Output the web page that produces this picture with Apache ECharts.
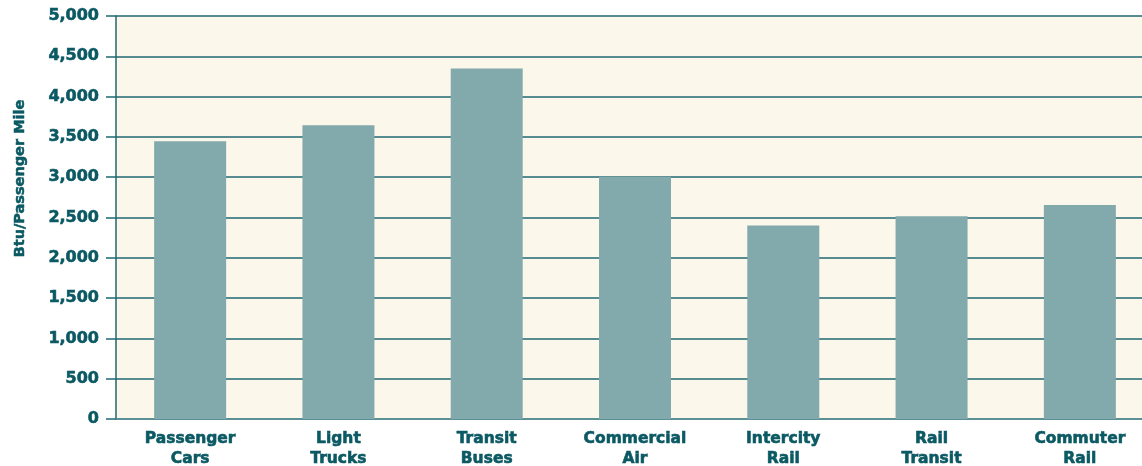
<!DOCTYPE html>
<html>
<head>
<meta charset="utf-8">
<script src="https://cdn.jsdelivr.net/npm/echarts@6/dist/echarts.min.js"></script>
<style>
  html, body { margin: 0; padding: 0; background: #fff; }
  #chart { width: 1142px; height: 466px; }
</style>
</head>
<body>
<div id="chart"></div>
<script>
// categories and values
const categories = ['Passenger\nCars', 'Light\nTrucks', 'Transit\nBuses', 'Commercial\nAir', 'Intercity\nRail', 'Rail\nTransit', 'Commuter\nRail']
const btuPerPassengerMile = [3445, 3645, 4350, 3005, 2400, 2515, 2655]

const textColor = '#0b5963'
const gridColor = '#1f6870'
const fontFamily = '"DejaVu Sans", sans-serif'

const chart = echarts.init(document.getElementById('chart'))
chart.setOption({
  animation: false,
  grid: {
    left: 116,
    width: 1038,
    top: 16,
    height: 403,
    containLabel: false,
    outerBoundsMode: 'none',
    show: true,
    backgroundColor: '#fcf7eb',
    borderWidth: 0
  },
  xAxis: {
    type: 'category',
    data: categories,
    axisLine: { lineStyle: { color: '#5e9296', width: 1.5 } },
    axisTick: { length: 2, lineStyle: { color: '#5e9296' } },
    axisLabel: {
      color: textColor,
      fontFamily: fontFamily,
      fontWeight: 'bold',
      fontSize: 15.5,
      lineHeight: 20,
      margin: 10,
      textBorderColor: textColor,
      textBorderWidth: 0.6
    }
  },
  yAxis: {
    type: 'value',
    min: 0,
    max: 5000,
    interval: 500,
    name: 'Btu/Passenger Mile',
    nameLocation: 'middle',
    nameGap: 88,
    nameTextStyle: {
      color: textColor,
      fontFamily: fontFamily,
      fontWeight: 'bold',
      fontSize: 14.5,
      padding: [0, 0, 0, 78],
      textBorderColor: textColor,
      textBorderWidth: 0.5
    },
    axisLine: { show: true, lineStyle: { color: gridColor, width: 1.5 } },
    axisTick: { show: true, length: 10, lineStyle: { color: gridColor, width: 1.5 } },
    splitLine: { lineStyle: { color: gridColor, width: 1.5 } },
    axisLabel: {
      color: textColor,
      fontFamily: fontFamily,
      fontWeight: 'bold',
      fontSize: 16,
      margin: 17,
      textBorderColor: textColor,
      textBorderWidth: 0.6,
      formatter: v => v.toLocaleString('en-US')
    }
  },
  series: [
    {
      name: 'Btu/Passenger Mile',
      type: 'bar',
      data: btuPerPassengerMile,
      barWidth: 72,
      itemStyle: { color: '#82a9ab' }
    }
  ]
})
</script>
</body>
</html>
